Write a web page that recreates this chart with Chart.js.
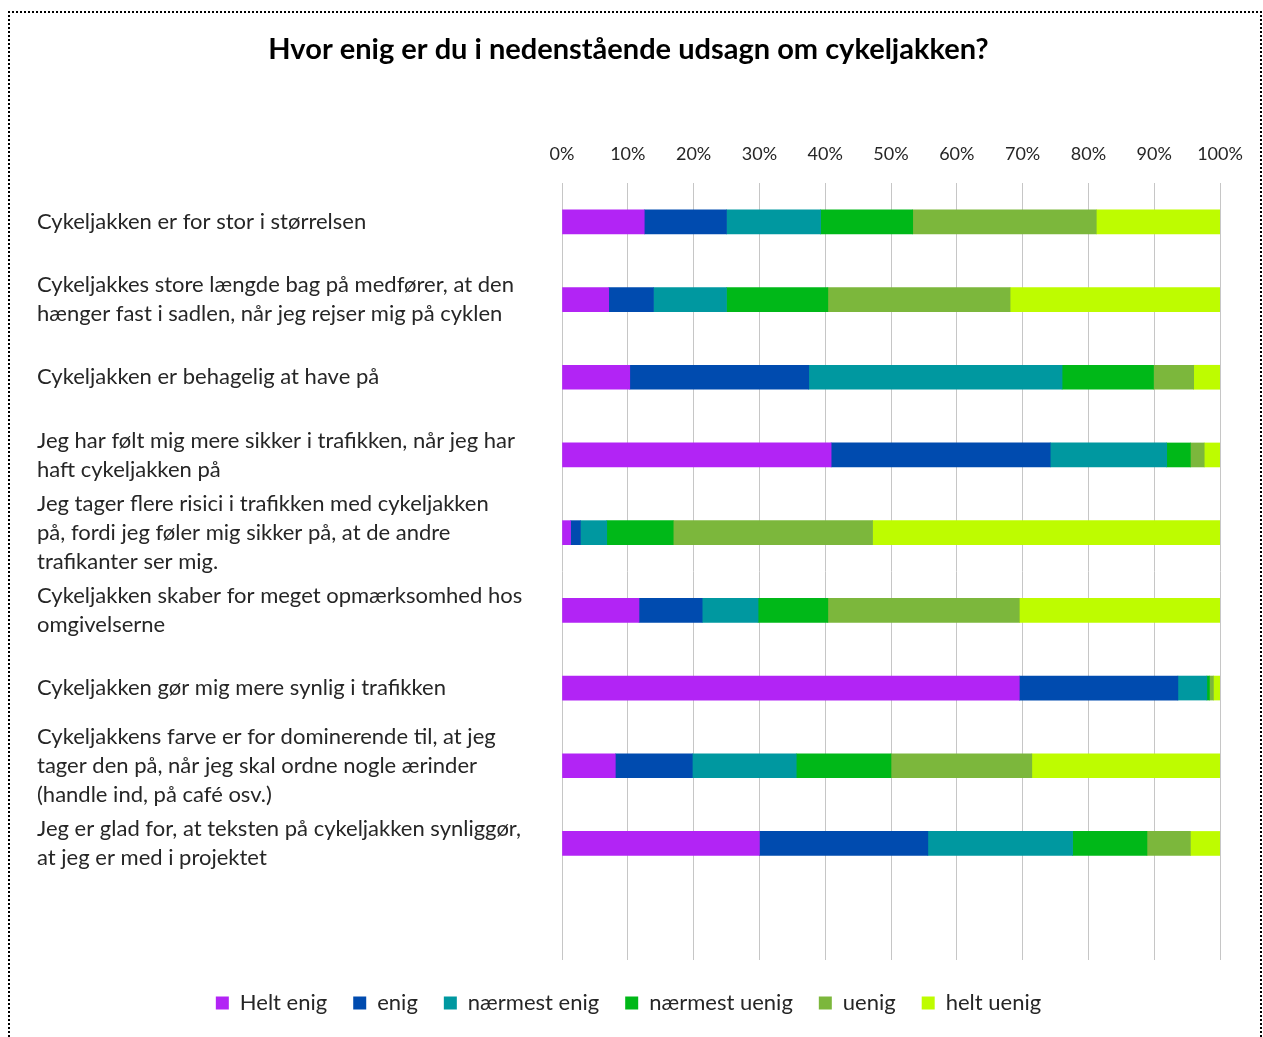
<!DOCTYPE html>
<html>
<head>
<meta charset="utf-8">
<script src="https://cdn.jsdelivr.net/npm/chart.js@4"></script>
<style>
  html, body { margin: 0; padding: 0; background: #fff; }
  #wrap { width: 1263px; height: 1037px; }
</style>
</head>
<body>
<div id="wrap"><canvas id="likertChart" width="1263" height="1037"></canvas></div>
<script>
const categories = [
  ['Cykeljakken er for stor i størrelsen'],
  ['Cykeljakkes store længde bag på medfører, at den', 'hænger fast i sadlen, når jeg rejser mig på cyklen'],
  ['Cykeljakken er behagelig at have på'],
  ['Jeg har følt mig mere sikker i trafikken, når jeg har', 'haft cykeljakken på'],
  ['Jeg tager flere risici i trafikken med cykeljakken', 'på, fordi jeg føler mig sikker på, at de andre', 'trafikanter ser mig.'],
  ['Cykeljakken skaber for meget opmærksomhed hos', 'omgivelserne'],
  ['Cykeljakken gør mig mere synlig i trafikken'],
  ['Cykeljakkens farve er for dominerende til, at jeg', 'tager den på, når jeg skal ordne nogle ærinder', '(handle ind, på café osv.)'],
  ['Jeg er glad for, at teksten på cykeljakken synliggør,', 'at jeg er med i projektet'],
  ''
];

const seriesNames = ['Helt enig', 'enig', 'nærmest enig', 'nærmest uenig', 'uenig', 'helt uenig'];

// percentages per statement (last row is empty in the original)
const heltEnig     = [12.5,  7.1, 10.3, 40.9,  1.3, 11.7, 69.5,  8.1, 30.0, null];
const enig         = [12.5,  6.8, 27.2, 33.3,  1.5,  9.6, 24.1, 11.7, 25.6, null];
const naermestEnig = [14.3, 11.1, 38.5, 17.7,  4.0,  8.5,  4.4, 15.8, 22.0, null];
const naermestUenig= [14.0, 15.4, 13.9,  3.6, 10.1, 10.6,  0.4, 14.4, 11.3, null];
const uenig        = [27.9, 27.7,  6.1,  2.1, 30.3, 29.1,  0.6, 21.4,  6.6, null];
const heltUenig    = [18.8, 31.9,  4.0,  2.4, 52.8, 30.5,  1.0, 28.6,  4.5, null];

const tickValues = [0, 10, 20, 30, 40, 50, 60, 70, 80, 90, 100];

const colors = ['#b224f5', '#004baf', '#0098a0', '#00b818', '#7cb73c', '#befc00'];
const seriesData = [heltEnig, enig, naermestEnig, naermestUenig, uenig, heltUenig];

const textColor = '#262626';
const fontFamily = 'Lato, "Open Sans", sans-serif';

// dotted frame round the whole chart
const dottedFrame = {
  id: 'dottedFrame',
  beforeDraw(chart) {
    const { ctx } = chart;
    ctx.save();
    ctx.fillStyle = '#fff';
    ctx.fillRect(0, 0, chart.width, chart.height);
    ctx.strokeStyle = '#000';
    ctx.lineWidth = 2;
    ctx.setLineDash([2, 2]);
    ctx.beginPath();
    ctx.moveTo(9, 1045);
    ctx.lineTo(9, 12);
    ctx.lineTo(1261, 12);
    ctx.lineTo(1261, 1045);
    ctx.stroke();
    ctx.restore();
  }
};

const ctx = document.getElementById('likertChart').getContext('2d');

new Chart(ctx, {
  type: 'bar',
  data: {
    labels: categories,
    datasets: seriesNames.map((name, i) => ({
      label: name,
      data: seriesData[i],
      backgroundColor: colors[i],
      borderWidth: 0,
      barThickness: 24
    }))
  },
  options: {
    indexAxis: 'y',
    responsive: false,
    animation: false,
    layout: { padding: { left: 37, right: 43, top: 0, bottom: 13 } },
    scales: {
      x: {
        position: 'top',
        stacked: true,
        min: 0,
        max: 100,
        afterBuildTicks(scale) {
          scale.ticks = tickValues.map(v => ({ value: v }));
        },
        afterFit(scale) { scale.height = 183 - 66.8; },
        grid: { color: '#c6c6c6', drawTicks: false, lineWidth: 1 },
        border: { display: false },
        ticks: {
          padding: 18,
          color: textColor,
          font: { family: fontFamily, size: 18 },
          callback: v => v + '%'
        }
      },
      y: {
        stacked: true,
        afterFit(scale) { scale.width = 562 - 37; },
        grid: { display: false },
        border: { display: false },
        ticks: {
          autoSkip: false,
          crossAlign: 'far',
          color: textColor,
          font: { family: fontFamily, size: 22, lineHeight: 1.32 }
        }
      }
    },
    plugins: {
      title: {
        display: true,
        text: 'Hvor enig er du i nedenstående udsagn om cykeljakken?',
        color: '#000',
        font: { family: fontFamily, size: 29, weight: 'bold', lineHeight: 1.2 },
        padding: { top: 32, bottom: 0 }
      },
      legend: {
        position: 'bottom',
        title: { display: true, text: ' ', font: { size: 1 }, padding: { top: 0, bottom: 4.8 } },
        labels: {
          color: textColor,
          font: { family: fontFamily, size: 22 },
          boxWidth: 13,
          boxHeight: 13,
          padding: 26
        }
      },
      tooltip: { enabled: false }
    }
  },
  plugins: [dottedFrame]
});
</script>
</body>
</html>
